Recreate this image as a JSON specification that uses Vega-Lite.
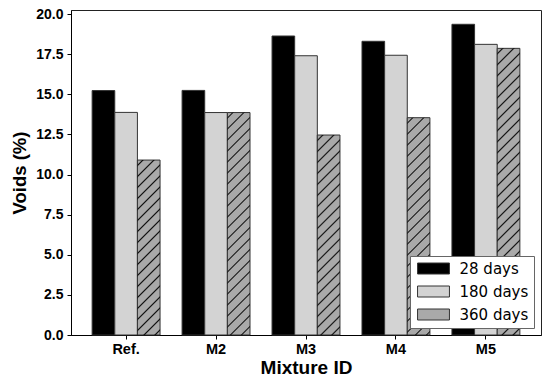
{
  "$schema": "https://vega.github.io/schema/vega-lite/v6.json",
  "width": 470,
  "height": 325,
  "autosize": {"type": "none"},
  "padding": {"left": 71, "top": 10, "right": 9, "bottom": 48},
  "background": "white",
  "params": [
    {
      "name": "hatchStops",
      "value": [
        {"offset": 0.0122, "color": "rgba(0,0,0,0)"}, {"offset": 0.0167, "color": "#111"}, {"offset": 0.0212, "color": "rgba(0,0,0,0)"},
        {"offset": 0.0455, "color": "rgba(0,0,0,0)"}, {"offset": 0.0500, "color": "#111"}, {"offset": 0.0545, "color": "rgba(0,0,0,0)"},
        {"offset": 0.0788, "color": "rgba(0,0,0,0)"}, {"offset": 0.0833, "color": "#111"}, {"offset": 0.0878, "color": "rgba(0,0,0,0)"},
        {"offset": 0.1122, "color": "rgba(0,0,0,0)"}, {"offset": 0.1167, "color": "#111"}, {"offset": 0.1212, "color": "rgba(0,0,0,0)"},
        {"offset": 0.1455, "color": "rgba(0,0,0,0)"}, {"offset": 0.1500, "color": "#111"}, {"offset": 0.1545, "color": "rgba(0,0,0,0)"},
        {"offset": 0.1788, "color": "rgba(0,0,0,0)"}, {"offset": 0.1833, "color": "#111"}, {"offset": 0.1878, "color": "rgba(0,0,0,0)"},
        {"offset": 0.2122, "color": "rgba(0,0,0,0)"}, {"offset": 0.2167, "color": "#111"}, {"offset": 0.2212, "color": "rgba(0,0,0,0)"},
        {"offset": 0.2455, "color": "rgba(0,0,0,0)"}, {"offset": 0.2500, "color": "#111"}, {"offset": 0.2545, "color": "rgba(0,0,0,0)"},
        {"offset": 0.2788, "color": "rgba(0,0,0,0)"}, {"offset": 0.2833, "color": "#111"}, {"offset": 0.2878, "color": "rgba(0,0,0,0)"},
        {"offset": 0.3122, "color": "rgba(0,0,0,0)"}, {"offset": 0.3167, "color": "#111"}, {"offset": 0.3212, "color": "rgba(0,0,0,0)"},
        {"offset": 0.3455, "color": "rgba(0,0,0,0)"}, {"offset": 0.3500, "color": "#111"}, {"offset": 0.3545, "color": "rgba(0,0,0,0)"},
        {"offset": 0.3788, "color": "rgba(0,0,0,0)"}, {"offset": 0.3833, "color": "#111"}, {"offset": 0.3878, "color": "rgba(0,0,0,0)"},
        {"offset": 0.4122, "color": "rgba(0,0,0,0)"}, {"offset": 0.4167, "color": "#111"}, {"offset": 0.4212, "color": "rgba(0,0,0,0)"},
        {"offset": 0.4455, "color": "rgba(0,0,0,0)"}, {"offset": 0.4500, "color": "#111"}, {"offset": 0.4545, "color": "rgba(0,0,0,0)"},
        {"offset": 0.4788, "color": "rgba(0,0,0,0)"}, {"offset": 0.4833, "color": "#111"}, {"offset": 0.4878, "color": "rgba(0,0,0,0)"},
        {"offset": 0.5122, "color": "rgba(0,0,0,0)"}, {"offset": 0.5167, "color": "#111"}, {"offset": 0.5212, "color": "rgba(0,0,0,0)"},
        {"offset": 0.5455, "color": "rgba(0,0,0,0)"}, {"offset": 0.5500, "color": "#111"}, {"offset": 0.5545, "color": "rgba(0,0,0,0)"},
        {"offset": 0.5788, "color": "rgba(0,0,0,0)"}, {"offset": 0.5833, "color": "#111"}, {"offset": 0.5878, "color": "rgba(0,0,0,0)"},
        {"offset": 0.6122, "color": "rgba(0,0,0,0)"}, {"offset": 0.6167, "color": "#111"}, {"offset": 0.6212, "color": "rgba(0,0,0,0)"},
        {"offset": 0.6455, "color": "rgba(0,0,0,0)"}, {"offset": 0.6500, "color": "#111"}, {"offset": 0.6545, "color": "rgba(0,0,0,0)"},
        {"offset": 0.6788, "color": "rgba(0,0,0,0)"}, {"offset": 0.6833, "color": "#111"}, {"offset": 0.6878, "color": "rgba(0,0,0,0)"},
        {"offset": 0.7122, "color": "rgba(0,0,0,0)"}, {"offset": 0.7167, "color": "#111"}, {"offset": 0.7212, "color": "rgba(0,0,0,0)"},
        {"offset": 0.7455, "color": "rgba(0,0,0,0)"}, {"offset": 0.7500, "color": "#111"}, {"offset": 0.7545, "color": "rgba(0,0,0,0)"},
        {"offset": 0.7788, "color": "rgba(0,0,0,0)"}, {"offset": 0.7833, "color": "#111"}, {"offset": 0.7878, "color": "rgba(0,0,0,0)"},
        {"offset": 0.8122, "color": "rgba(0,0,0,0)"}, {"offset": 0.8167, "color": "#111"}, {"offset": 0.8212, "color": "rgba(0,0,0,0)"},
        {"offset": 0.8455, "color": "rgba(0,0,0,0)"}, {"offset": 0.8500, "color": "#111"}, {"offset": 0.8545, "color": "rgba(0,0,0,0)"},
        {"offset": 0.8788, "color": "rgba(0,0,0,0)"}, {"offset": 0.8833, "color": "#111"}, {"offset": 0.8878, "color": "rgba(0,0,0,0)"},
        {"offset": 0.9122, "color": "rgba(0,0,0,0)"}, {"offset": 0.9167, "color": "#111"}, {"offset": 0.9212, "color": "rgba(0,0,0,0)"},
        {"offset": 0.9455, "color": "rgba(0,0,0,0)"}, {"offset": 0.9500, "color": "#111"}, {"offset": 0.9545, "color": "rgba(0,0,0,0)"}
      ]
    }
  ],
  "data": {
    "values": [
      {"mixture": "Ref.", "age": "28 days", "voids": 15.23},
      {"mixture": "Ref.", "age": "180 days", "voids": 13.87},
      {"mixture": "Ref.", "age": "360 days", "voids": 10.9},
      {"mixture": "M2", "age": "28 days", "voids": 15.24},
      {"mixture": "M2", "age": "180 days", "voids": 13.86},
      {"mixture": "M2", "age": "360 days", "voids": 13.86},
      {"mixture": "M3", "age": "28 days", "voids": 18.63},
      {"mixture": "M3", "age": "180 days", "voids": 17.4},
      {"mixture": "M3", "age": "360 days", "voids": 12.46},
      {"mixture": "M4", "age": "28 days", "voids": 18.3},
      {"mixture": "M4", "age": "180 days", "voids": 17.43},
      {"mixture": "M4", "age": "360 days", "voids": 13.54},
      {"mixture": "M5", "age": "28 days", "voids": 19.36},
      {"mixture": "M5", "age": "180 days", "voids": 18.11},
      {"mixture": "M5", "age": "360 days", "voids": 17.86}
    ]
  },
  "encoding": {
    "x": {
      "field": "mixture",
      "type": "nominal",
      "sort": ["Ref.", "M2", "M3", "M4", "M5"],
      "scale": {"paddingInner": 0.245, "paddingOuter": 0.235},
      "axis": {"title": "Mixture ID", "labelAngle": 0, "labelPadding": 3, "titlePadding": 3, "titleFontSize": 19, "labelFontSize": 14.5}
    },
    "xOffset": {
      "field": "age",
      "type": "nominal",
      "sort": ["28 days", "180 days", "360 days"],
      "scale": {"paddingInner": 0, "paddingOuter": 0}
    },
    "y": {
      "field": "voids",
      "type": "quantitative",
      "scale": {"domain": [0, 20.25], "nice": false},
      "axis": {
        "title": "Voids (%)",
        "values": [0, 2.5, 5, 7.5, 10, 12.5, 15, 17.5, 20],
        "format": ".1f",
        "labelPadding": 4,
        "titlePadding": 6,
        "titleFontSize": 18.5
      }
    }
  },
  "layer": [
    {
      "mark": {"type": "bar", "stroke": "#333", "strokeWidth": 1},
      "encoding": {
        "fill": {
          "field": "age",
          "type": "nominal",
          "sort": ["28 days", "180 days", "360 days"],
          "scale": {"domain": ["28 days", "180 days", "360 days"], "range": ["#000000", "#d3d3d3", "#a9a9a9"]},
          "legend": {
            "title": null,
            "orient": "bottom-right",
            "offset": 7,
            "padding": 5,
            "fillColor": "white",
            "strokeColor": "#666",
            "cornerRadius": 0,
            "symbolType": "M-2.9,-1H2.9V1H-2.9Z",
            "symbolSize": 121,
            "symbolOffset": 11,
            "labelOffset": 18.5,
            "symbolStrokeColor": "#333",
            "symbolStrokeWidth": 1,
            "symbolOpacity": 1,
            "labelFont": "DejaVu Sans",
            "labelFontSize": 15,
            "labelColor": "#000",
            "rowPadding": 7,
            "encode": {
              "symbols": {
                "update": {
                  "fill": [
                    {
                      "test": "datum.value === '360 days'",
                      "value": {
                        "gradient": "linear", "x1": 0, "y1": 0, "x2": 1.2019, "y2": 0.4144,
                        "stops": [
                          {"offset": 0.0932, "color": "#a9a9a9"}, {"offset": 0.1282, "color": "#111"}, {"offset": 0.1632, "color": "#a9a9a9"},
                          {"offset": 0.3496, "color": "#a9a9a9"}, {"offset": 0.3846, "color": "#111"}, {"offset": 0.4196, "color": "#a9a9a9"},
                          {"offset": 0.6060, "color": "#a9a9a9"}, {"offset": 0.6410, "color": "#111"}, {"offset": 0.6760, "color": "#a9a9a9"},
                          {"offset": 0.8624, "color": "#a9a9a9"}, {"offset": 0.8974, "color": "#111"}, {"offset": 0.9324, "color": "#a9a9a9"}
                        ]
                      }
                    },
                    {"scale": "fill", "field": "value"}
                  ],
                  "stroke": {"value": "#333"},
                  "strokeWidth": {"value": 1},
                  "opacity": {"value": 1}
                }
              }
            }
          }
        }
      }
    },
    {
      "transform": [{"filter": "datum.age === '360 days'"}],
      "mark": {
        "type": "bar",
        "strokeWidth": 0,
        "fill": {"expr": "{gradient: 'linear', x1: 0, y1: 0, x2: 7471 / (512.6 + pow(datum.voids * 16.0494, 2)), y2: 330 * datum.voids * 16.0494 / (512.6 + pow(datum.voids * 16.0494, 2)), stops: hatchStops}"}
      }
    }
  ],
  "config": {
    "view": {"stroke": "#222", "strokeWidth": 1},
    "axis": {
      "labelFont": "Liberation Sans",
      "labelFontWeight": "bold",
      "labelFontSize": 14,
      "labelColor": "#000",
      "titleFont": "Liberation Sans",
      "titleFontWeight": "bold",
      "titleColor": "#000",
      "domainColor": "#000",
      "tickColor": "#000",
      "tickSize": 4,
      "grid": false
    }
  }
}
